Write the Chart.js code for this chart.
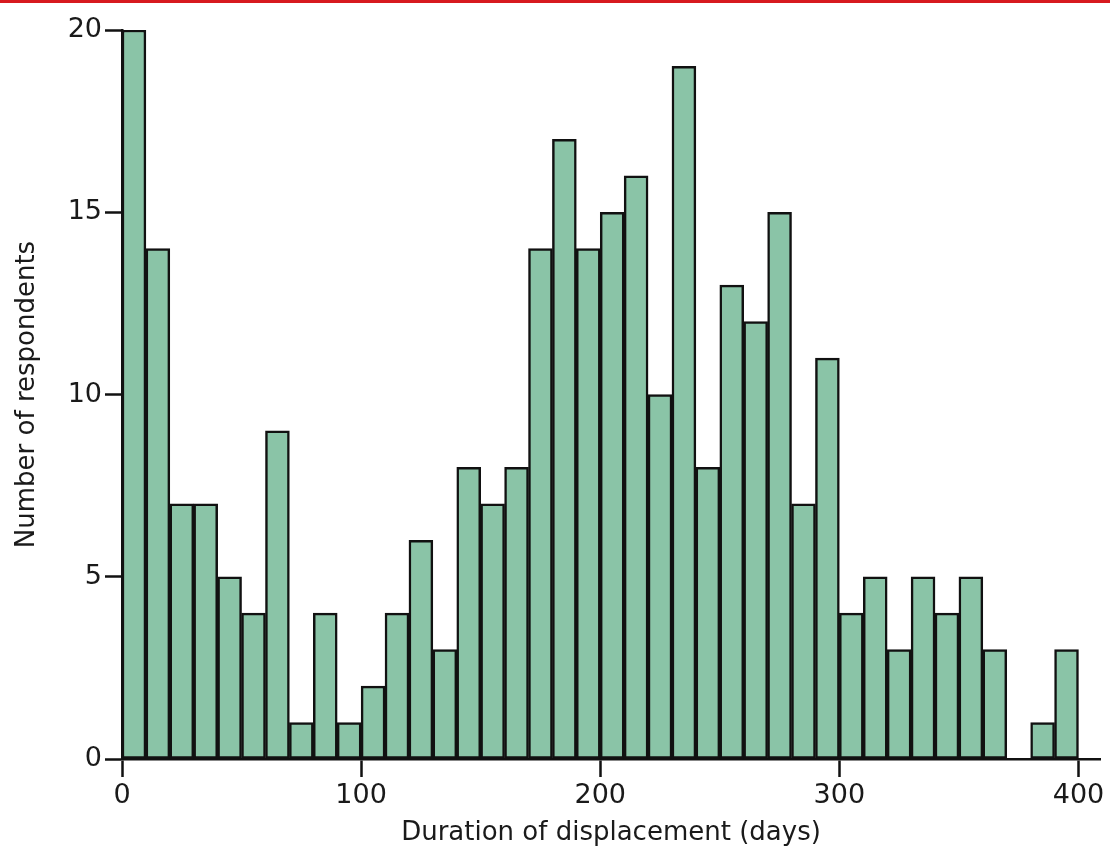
<!DOCTYPE html>
<html>
<head>
<meta charset="utf-8">
<script src="https://cdn.jsdelivr.net/npm/chart.js@4"></script>
<style>
  html, body { margin: 0; padding: 0; background: #fff; }
  #wrap { position: relative; width: 1110px; height: 855px; }
  #topRule { position: absolute; left: 0; top: 0; width: 1110px; height: 3px; background: #d7191f; }
</style>
</head>
<body>
<div id="wrap">
  <canvas id="histChart" width="1110" height="855"></canvas>
  <div id="topRule"></div>
</div>
<script>
// bin centres (days), 10-day bins
const binCentres = [5, 15, 25, 35, 45, 55, 65, 75, 85, 95,
                    105, 115, 125, 135, 145, 155, 165, 175, 185, 195,
                    205, 215, 225, 235, 245, 255, 265, 275, 285, 295,
                    305, 315, 325, 335, 345, 355, 365, 375, 385, 395];
const respondents = [20, 14, 7, 7, 5, 4, 9, 1, 4, 1,
                     2, 4, 6, 3, 8, 7, 8, 14, 17, 14,
                     15, 16, 10, 19, 8, 13, 12, 15, 7, 11,
                     4, 5, 3, 5, 4, 5, 3, 0, 1, 3];
const xTicks = [0, 100, 200, 300, 400];
const yTicks = [0, 5, 10, 15, 20];

document.addEventListener('DOMContentLoaded', function() {
    const ctx = document.getElementById('histChart').getContext('2d');
    const textColor = '#1a1a1a';
    const fontFamily = '"DejaVu Sans", sans-serif';

    new Chart(ctx, {
        type: 'bar',
        data: {
            datasets: [{
                data: binCentres.map((c, i) => ({ x: c, y: respondents[i] })),
                backgroundColor: '#8ac4a7',
                borderColor: '#111',
                borderWidth: 2.5,
                borderSkipped: false,
                barPercentage: 1,
                categoryPercentage: 1
            }]
        },
        options: {
            responsive: false,
            animation: false,
            layout: { padding: { top: 30, right: 10, left: 12, bottom: 0 } },
            scales: {
                x: {
                    type: 'linear',
                    min: 0,
                    max: 409,
                    offset: false,
                    afterBuildTicks: function(scale) {
                        scale.ticks = xTicks.map(v => ({ value: v }));
                    },
                    afterFit: function(scale) { scale.height = 96; },
                    border: { display: true, color: '#111', width: 2.5 },
                    grid: {
                        offset: false,
                        drawOnChartArea: false,
                        drawTicks: true,
                        tickLength: 18,
                        tickWidth: 2.5,
                        tickColor: '#111'
                    },
                    ticks: {
                        color: textColor,
                        font: { family: fontFamily, size: 27 },
                        padding: 3,
                        maxRotation: 0
                    },
                    title: {
                        display: true,
                        text: 'Duration of displacement (days)',
                        color: textColor,
                        font: { family: fontFamily, size: 26 },
                        padding: { top: 0, bottom: 6 }
                    }
                },
                y: {
                    min: 0,
                    max: 20,
                    afterBuildTicks: function(scale) {
                        scale.ticks = yTicks.map(v => ({ value: v }));
                    },
                    afterFit: function(scale) { scale.width = 110; },
                    border: { display: true, color: '#111', width: 2.5 },
                    grid: {
                        drawOnChartArea: false,
                        drawTicks: true,
                        tickLength: 17,
                        tickWidth: 2.5,
                        tickColor: '#111'
                    },
                    ticks: {
                        color: textColor,
                        font: { family: fontFamily, size: 27 },
                        padding: 3
                    },
                    title: {
                        display: true,
                        text: 'Number of respondents',
                        color: textColor,
                        font: { family: fontFamily, size: 26 },
                        padding: { top: 0, bottom: 0 }
                    }
                }
            },
            plugins: {
                legend: { display: false },
                tooltip: { enabled: false }
            }
        }
    });
});
</script>
</body>
</html>
